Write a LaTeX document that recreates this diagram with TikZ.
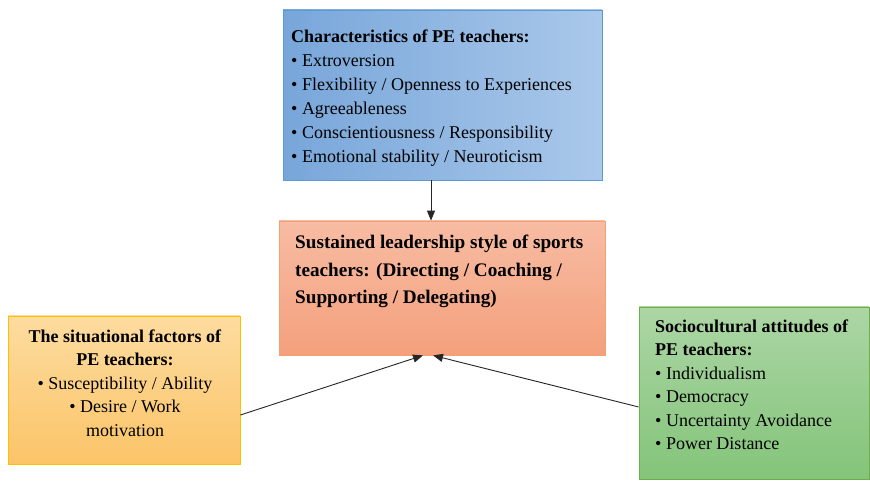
\documentclass[tikz,border=0pt]{standalone}
\usepackage{fontspec}
\setmainfont{Liberation Serif}
\usetikzlibrary{arrows.meta}
\definecolor{blueL}{RGB}{120,166,218}
\definecolor{blueR}{RGB}{170,200,234}
\definecolor{blueB}{RGB}{91,155,213}
\definecolor{orT}{RGB}{247,188,163}
\definecolor{orB}{RGB}{244,160,124}
\definecolor{orD}{RGB}{243,160,115}
\definecolor{yeT}{RGB}{253,220,160}
\definecolor{yeB}{RGB}{251,196,104}
\definecolor{yeD}{RGB}{255,192,0}
\definecolor{grT}{RGB}{172,214,165}
\definecolor{grB}{RGB}{132,196,122}
\definecolor{grD}{RGB}{112,173,71}
\begin{document}
\begin{tikzpicture}[x=1pt,y=1pt,
  box/.style={draw, line width=0.8pt, inner sep=0pt},
  txt/.style={inner sep=0pt, font=\fontsize{18}{24}\selectfont, anchor=north west, align=left},
  conn/.style={line width=0.9pt, color=black!85, -{Triangle[length=10pt,width=8pt]}}]
\useasboundingbox[fill=white] (0,0) rectangle (870,481);

% boxes
\node[box, draw=blueB, left color=blueL, right color=blueR, minimum width=319pt, minimum height=170pt] (blue) at (442.5,386) {};
\node[box, draw=orD, top color=orT, bottom color=orB, minimum width=326pt, minimum height=134pt] (orange) at (442,193) {};
\node[box, draw=yeD, top color=yeT, bottom color=yeB, minimum width=232pt, minimum height=148pt] (yellow) at (124,91) {};
\node[box, draw=grD, top color=grT, bottom color=grB, minimum width=230pt, minimum height=172pt] (green) at (754,88) {};

% texts
\node[txt] (bluetext) at (291,451.5) {\textbf{Characteristics of PE teachers:}\\
• Extroversion\\
• Flexibility / Openness to Experiences\\
• Agreeableness\\
• Conscientiousness / Responsibility\\
• Emotional stability / Neuroticism};

\node[txt, font=\fontsize{19.2}{27.5}\selectfont\bfseries] (ortext) at (295,246) {Sustained leadership style of sports\\
teachers: (Directing / Coaching /\\
Supporting / Delegating)};

\node[txt, anchor=north, align=center, font=\fontsize{18}{23.5}\selectfont] (yetext) at (125,151.5) {\textbf{The situational factors of}\\
\textbf{PE teachers:}\\
• Susceptibility / Ability\\
• Desire / Work\\
motivation};

\node[txt, font=\fontsize{18}{23.5}\selectfont] (grtext) at (655,161.5) {\textbf{Sociocultural attitudes of}\\
\textbf{PE teachers:}\\
• Individualism\\
• Democracy\\
• Uncertainty Avoidance\\
• Power Distance};

% connectors
\coordinate (ax) at (431,0);
\draw[conn] (blue.south -| ax) -- (orange.north -| ax);
\draw[conn] ([yshift=-25pt]yellow.east) -- ([xshift=-19pt]orange.south);
\draw[conn] ([yshift=-14pt]green.west) -- ([xshift=-9pt]orange.south);
\end{tikzpicture}
\end{document}
